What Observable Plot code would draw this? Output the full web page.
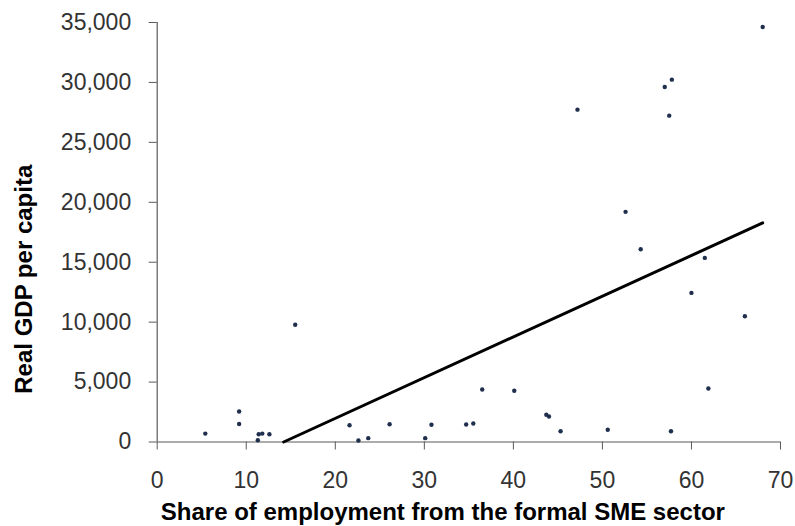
<!DOCTYPE html>
<html>
<head>
<meta charset="utf-8">
<script src="https://cdn.jsdelivr.net/npm/d3@7"></script>
<script src="https://cdn.jsdelivr.net/npm/@observablehq/plot@0.6"></script>
<style>
  html, body { margin: 0; padding: 0; background: #fff; }
  #chart svg { display: block; }
</style>
</head>
<body>
<div id="chart"></div>
<script>
// Share of employment from the formal SME sector (%)
const smeShare = [5.4, 9.2, 9.2, 11.3, 11.4, 11.8, 12.6, 15.5, 21.6, 22.6, 23.7, 26.1,
  30.1, 30.8, 34.7, 35.5, 36.5, 40.1, 43.7, 44.0, 45.3, 47.2, 50.6, 52.6, 54.3,
  57.0, 57.5, 57.7, 57.8, 60.0, 61.5, 61.9, 66.0, 68.0];
// Real GDP per capita
const gdpPerCapita = [700, 2550, 1500, 150, 650, 700, 650, 9780, 1400, 130, 320, 1480,
  320, 1440, 1460, 1540, 4380, 4270, 2270, 2130, 900, 27730, 1020, 19200, 16080,
  29620, 27230, 900, 30230, 12440, 15360, 4460, 10490, 34630];
// Trend line endpoints (as drawn, clipped at 0)
const trendX = [14.2, 68.0];
const trendY = [0, 18280];
const xTicks = [0, 10, 20, 30, 40, 50, 60, 70];
const yTicks = [0, 5000, 10000, 15000, 20000, 25000, 30000, 35000];
const xTitle = "Share of employment from the formal SME sector";
const yTitle = "Real GDP per capita";

const points = smeShare.map((x, i) => ({x, y: gdpPerCapita[i]}));
const trend = trendX.map((x, i) => ({x, y: trendY[i]}));

const axisColor = "#5a5a5a";
const font = "'Liberation Sans', Arial, sans-serif";

const chart = Plot.plot({
  width: 795,
  height: 526,
  marginLeft: 156.7,
  marginRight: 15,
  marginTop: 22,
  marginBottom: 84.5,
  style: {fontFamily: font, fontSize: "23px", color: "#333", background: "#fff"},
  x: {domain: [0, 70], ticks: xTicks},
  y: {domain: [0, 35000], ticks: yTicks},
  marks: [
    Plot.axisX({ticks: xTicks, tickSize: 8, tickPadding: 22, stroke: axisColor, fill: "#333", fontSize: 23, label: null, tickFormat: d => d}),
    Plot.axisY({ticks: yTicks, tickSize: 8, tickPadding: 18, stroke: axisColor, fill: "#333", fontSize: 23, label: null, tickFormat: d3.format(",")}),
    Plot.ruleY([0], {stroke: axisColor, strokeWidth: 1.2}),
    Plot.ruleX([0], {stroke: axisColor, strokeWidth: 1.2}),
    Plot.line(trend, {x: "x", y: "y", stroke: "#000", strokeWidth: 3}),
    Plot.dot(points, {x: "x", y: "y", r: 2.2, fill: "#1f2f4d", stroke: "none"}),
    Plot.text([xTitle], {frameAnchor: "bottom", dx: -26, dy: 70.5, text: d => d, fontWeight: "bold", fontSize: 24, fill: "#000", textAnchor: "middle", lineAnchor: "middle"}),
    Plot.text([yTitle], {frameAnchor: "left", dx: -132.7, dy: 47, rotate: -90, text: d => d, fontWeight: "bold", fontSize: 24, fill: "#000", textAnchor: "middle", lineAnchor: "middle"})
  ]
});
document.getElementById("chart").appendChild(chart);
</script>
</body>
</html>
